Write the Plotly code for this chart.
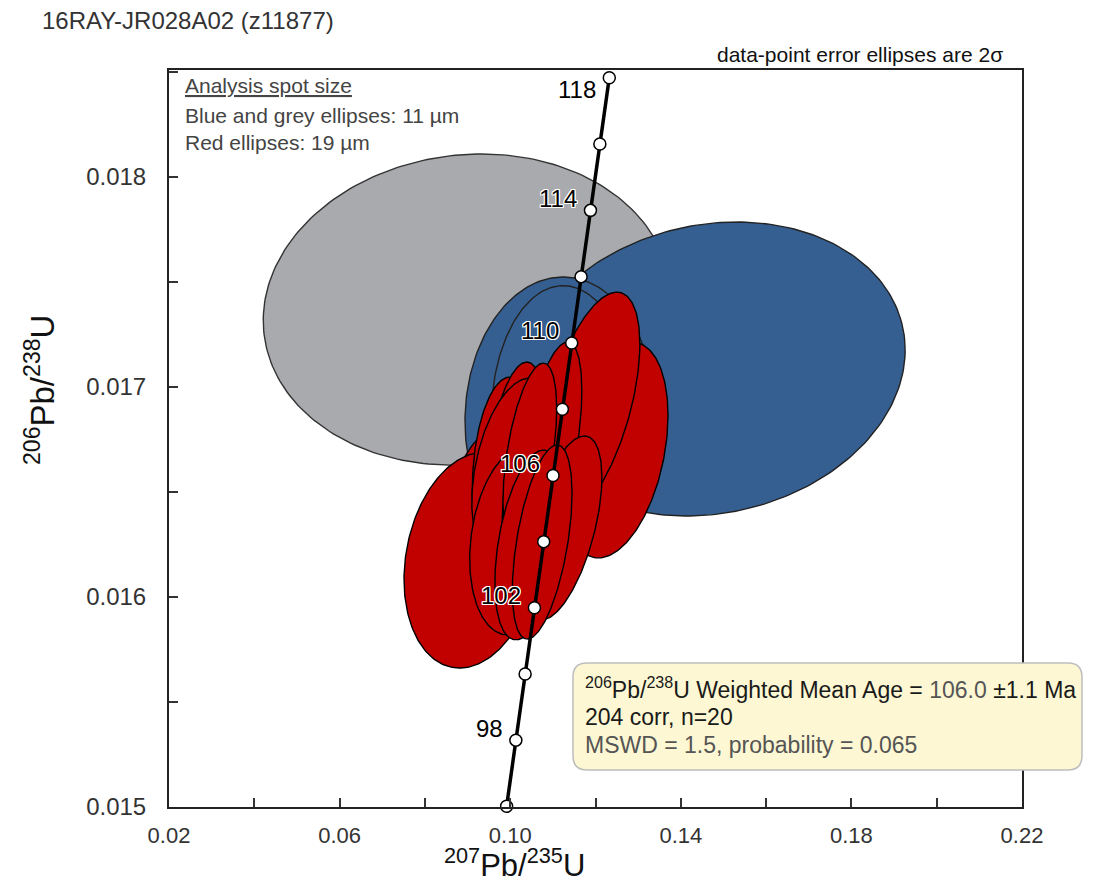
import numpy as np
import plotly.graph_objects as go

FONT = "Liberation Sans, Arial, sans-serif"

# ---- Concordia (ages in Ma) ----
LAMBDA_238 = 1.55125e-4   # per Ma
LAMBDA_235 = 9.8485e-4    # per Ma
conc_ages = [96, 98, 100, 102, 104, 106, 108, 110, 112, 114, 116, 118]
conc_label_ages = [98, 102, 106, 110, 114, 118]

# ---- Data-point error ellipses (2 sigma) ----
# centre (207Pb/235U, 206Pb/238U), 2-sigma half widths and error correlation
ell_group = ["grey", "blue", "blue", "blue"] + ["red"] * 14
ell_x = [0.0899, 0.1472, 0.1117, 0.1124,
         0.1246, 0.1187, 0.0964, 0.0910, 0.0988, 0.1011, 0.1011,
         0.1018, 0.1070, 0.1093, 0.1046, 0.1046, 0.1124, 0.1075]
ell_y = [0.017369, 0.017086, 0.016857, 0.016845,
         0.016700, 0.016914, 0.016367, 0.016176, 0.016581, 0.016652, 0.016605,
         0.016271, 0.016605, 0.016700, 0.016676, 0.016248, 0.016329, 0.016262]
ell_sx = [0.0478, 0.0454, 0.0223, 0.0169,
          0.0124, 0.0117, 0.0129, 0.0159, 0.0077, 0.0070, 0.0101,
          0.0113, 0.0089, 0.0075, 0.0063, 0.0082, 0.0091, 0.0070]
ell_sy = [0.000741, 0.000700, 0.000667, 0.000638,
          0.000514, 0.000538, 0.000476, 0.000514, 0.000467, 0.000467, 0.000438,
          0.000452, 0.000514, 0.000514, 0.000438, 0.000452, 0.000438, 0.000462]
ell_rho = [0.07, 0.13, 0.03, 0.0,
           0.32, 0.54, 0.30, 0.18, 0.15, 0.40, 0.35,
           0.20, 0.50, 0.55, 0.50, 0.40, 0.55, 0.50]

fill_colors = {"grey": "#A9AAAD", "blue": "#365F91", "red": "#C10000"}
edge_colors = {"grey": "#333333", "blue": "#222222", "red": "#000000"}

X_RANGE = [0.02, 0.22]
Y_RANGE = [0.015, 0.01851]


def concordia(t):
    t = np.asarray(t, dtype=float)
    return np.exp(LAMBDA_235 * t) - 1.0, np.exp(LAMBDA_238 * t) - 1.0


def ellipse(cx, cy, sx, sy, rho, n=240):
    t = np.linspace(0, 2 * np.pi, n)
    x = cx + sx * np.cos(t)
    y = cy + sy * (rho * np.cos(t) + np.sqrt(1 - rho ** 2) * np.sin(t))
    return x, y


fig = go.Figure()

for g, cx, cy, sx, sy, rho in zip(ell_group, ell_x, ell_y, ell_sx, ell_sy, ell_rho):
    ex, ey = ellipse(cx, cy, sx, sy, rho)
    fig.add_trace(go.Scatter(
        x=ex, y=ey, mode="lines", fill="toself",
        fillcolor=fill_colors[g],
        line=dict(color=edge_colors[g], width=1.4),
        hoverinfo="skip", showlegend=False))

# concordia curve
t_line = np.linspace(conc_ages[0], conc_ages[-1], 300)
cx_line, cy_line = concordia(t_line)
fig.add_trace(go.Scatter(
    x=cx_line, y=cy_line, mode="lines",
    line=dict(color="black", width=3.5),
    hoverinfo="skip", showlegend=False))

mx, my = concordia(conc_ages)
fig.add_trace(go.Scatter(
    x=mx, y=my, mode="markers", cliponaxis=False,
    marker=dict(size=12, color="white", line=dict(color="black", width=1.5)),
    hoverinfo="skip", showlegend=False))

halo = ("1px 1px 0 #fff, -1px -1px 0 #fff, 1px -1px 0 #fff, -1px 1px 0 #fff, "
        "0 1px 0 #fff, 0 -1px 0 #fff, 1px 0 0 #fff, -1px 0 0 #fff")
annotations = []
lx, ly = concordia(conc_label_ages)
for age, ax_, ay_ in zip(conc_label_ages, lx, ly):
    near_top = ay_ > Y_RANGE[1] - 0.0001
    annotations.append(dict(
        x=ax_, y=ay_, xref="x", yref="y", text=str(age), showarrow=False,
        xanchor="right", yanchor="middle", xshift=-11,
        yshift=-12 if near_top else 12,
        font=dict(family=FONT, size=24, color="black", shadow=halo)))

# header texts
annotations += [
    dict(x=-0.1512, y=1.0678, xref="paper", yref="paper", xanchor="left", yanchor="middle",
         text="16RAY-JR028A02 (z11877)", showarrow=False,
         font=dict(family=FONT, size=24, color="#333333")),
    dict(x=0.980, y=1.0204, xref="paper", yref="paper", xanchor="right", yanchor="middle",
         text="data-point error ellipses are 2σ", showarrow=False,
         font=dict(family=FONT, size=21, color="#111111")),
    dict(x=0.0164, y=0.9796, xref="paper", yref="paper", xanchor="left", yanchor="middle",
         text="<span style='text-decoration:underline'>Analysis spot size</span>",
         showarrow=False, font=dict(family=FONT, size=21, color="#444444")),
    dict(x=0.0164, y=0.9389, xref="paper", yref="paper", xanchor="left", yanchor="middle",
         text="Blue and grey ellipses: 11 µm", showarrow=False,
         font=dict(family=FONT, size=21, color="#444444")),
    dict(x=0.0164, y=0.9010, xref="paper", yref="paper", xanchor="left", yanchor="middle",
         text="Red ellipses: 19 µm", showarrow=False,
         font=dict(family=FONT, size=21, color="#444444")),
]

# axis titles
annotations += [
    dict(x=0.4056, y=-0.0765, xref="paper", yref="paper", xanchor="center", yanchor="middle",
         text="<sup>207</sup>Pb/<sup>235</sup>U", showarrow=False,
         font=dict(family=FONT, size=31, color="#111111")),
    dict(x=-0.1512, y=0.5658, xref="paper", yref="paper", xanchor="center", yanchor="middle",
         text="<sup>206</sup>Pb/<sup>238</sup>U", showarrow=False, textangle=-90,
         font=dict(family=FONT, size=33, color="#111111")),
]

# weighted mean summary box
box_lines = [
    "<sup>206</sup>Pb/<sup>238</sup>U Weighted Mean Age = "
    "<span style='color:#555555'>106.0</span> ±1.1 Ma",
    "204 corr, n=20",
    "<span style='color:#555555'>MSWD = 1.5, probability = 0.065</span>",
]
for txt, yy in zip(box_lines, [0.1615, 0.1221, 0.0841]):
    annotations.append(dict(
        x=0.4853, y=yy, xref="paper", yref="paper", xanchor="left", yanchor="middle",
        text=txt, showarrow=False, font=dict(family=FONT, size=23, color="#1a1a1a")))

# rounded rectangle behind the summary text (paper units)
x0, x1, y0, y1 = 0.4736, 1.0703, 0.0502, 0.1954
rx, ry = 14 / 853, 14 / 737
box_path = (f"M {x0+rx},{y1} L {x1-rx},{y1} Q {x1},{y1} {x1},{y1-ry} "
            f"L {x1},{y0+ry} Q {x1},{y0} {x1-rx},{y0} L {x0+rx},{y0} "
            f"Q {x0},{y0} {x0},{y0+ry} L {x0},{y1-ry} Q {x0},{y1} {x0+rx},{y1} Z")

tick_style = dict(ticks="inside", ticklen=9, tickwidth=1.5, tickcolor="#333333")

fig.update_layout(
    width=1118, height=884,
    margin=dict(l=169, r=96, t=70, b=77),
    paper_bgcolor="white", plot_bgcolor="white",
    font=dict(family=FONT, color="#333333"),
    showlegend=False,
    annotations=annotations,
    shapes=[dict(type="path", path=box_path, xref="paper", yref="paper",
                 fillcolor="#FDF8D3", line=dict(color="#BDBDBD", width=1.5),
                 layer="above")],
    xaxis=dict(range=X_RANGE, tickmode="linear", tick0=0.02, dtick=0.04,
               tickformat=".2f", **tick_style,
               minor=dict(tick0=0.02, dtick=0.02, **tick_style),
               showgrid=False, zeroline=False, showline=True, linecolor="#222222",
               linewidth=2, mirror=True, ticklabelstandoff=8,
               tickfont=dict(family=FONT, size=22, color="#333333")),
    yaxis=dict(range=Y_RANGE, tickmode="linear", tick0=0.015, dtick=0.001,
               tickformat=".3f", **tick_style,
               minor=dict(tick0=0.015, dtick=0.0005, **tick_style),
               showgrid=False, zeroline=False, showline=True, linecolor="#222222",
               linewidth=2, mirror=True, ticklabelstandoff=16,
               tickfont=dict(family=FONT, size=24, color="#333333")),
)

fig.write_html("out.html")
